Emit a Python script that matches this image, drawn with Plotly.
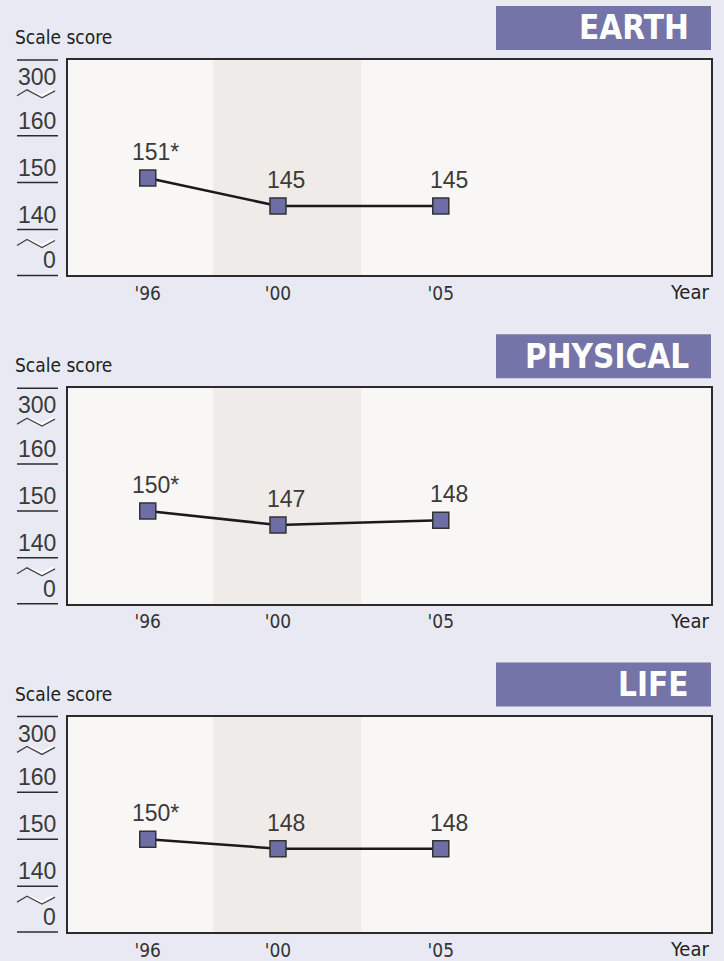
import plotly.graph_objects as go

# NAEP science scale scores by content area
YEARS = [1996, 2000, 2005]
YEAR_LABELS = ["'96", "'00", "'05"]
AREAS = ["EARTH", "PHYSICAL", "LIFE"]
SCORES = {
    "EARTH": [151, 145, 145],
    "PHYSICAL": [150, 147, 148],
    "LIFE": [150, 148, 148],
}
# '*' marks a score significantly different from 2005
SIG_DIFF = {
    "EARTH": [True, False, False],
    "PHYSICAL": [True, False, False],
    "LIFE": [True, False, False],
}
Y_TICKS = [140, 150, 160]
Y_BOTTOM_LABEL = "0"
Y_TOP_LABEL = "300"
SHADE_SPAN = [1998.0, 2002.55]

W, H = 724, 961
BG = "rgb(233,233,243)"
PLOT_BG = "rgb(248,247,245)"
SHADE = "rgb(238,235,232)"
PURPLE = "rgb(116,116,168)"
MARKER = "rgb(110,110,166)"
INK = "#2b2b2b"
NARROW = "Liberation Sans Narrow, DejaVu Sans Condensed, sans-serif"
NUMS = "Liberation Sans, Arial, sans-serif"

PLOT_LEFT, PLOT_RIGHT = 68, 711
PANEL_TOPS = [60, 389, 718]
PANEL_H = 216
Y_RANGE = [130.21, 176.17]
X_RANGE = [1993.55, 2013.3]


def px(x):
    return x / W


def py(y):
    return 1 - y / H


def path(points):
    return " ".join(("M" if k == 0 else "L") + f" {px(x)},{py(y)}"
                    for k, (x, y) in enumerate(points))


fig = go.Figure()
shapes, annos = [], []

for i, area in enumerate(AREAS):
    n = "" if i == 0 else str(i + 1)
    xa, ya = "x" + n, "y" + n
    top = PANEL_TOPS[i]
    bottom = top + PANEL_H

    fig.update_layout(**{
        "xaxis" + n: dict(
            domain=[px(PLOT_LEFT), px(PLOT_RIGHT)], range=X_RANGE,
            anchor=ya, showgrid=False, zeroline=False,
            showline=True, mirror=True, linecolor=INK, linewidth=1.5,
            tickmode="array", tickvals=YEARS, ticktext=YEAR_LABELS,
            ticks="", ticklen=0,
            tickfont=dict(family=NARROW, size=19, color="#333"),
        ),
        "yaxis" + n: dict(
            domain=[py(bottom), py(top)], range=Y_RANGE,
            anchor=xa, showgrid=False, zeroline=False,
            showline=True, mirror=True, linecolor=INK, linewidth=1.5,
            showticklabels=False, ticks="",
        ),
    })

    # shaded period behind '00
    shapes.append(dict(type="rect", xref=xa, yref=ya + " domain",
                       x0=SHADE_SPAN[0], x1=SHADE_SPAN[1], y0=0, y1=1,
                       fillcolor=SHADE, line=dict(width=0), layer="below"))

    fig.add_trace(go.Scatter(
        x=YEARS, y=SCORES[area], xaxis=xa, yaxis=ya,
        mode="lines+markers", hoverinfo="skip", showlegend=False,
        line=dict(color="#1a1a1a", width=2.5),
        marker=dict(symbol="square", size=16, color=MARKER,
                    line=dict(color="#333", width=1.5)),
    ))

    for yr, v, sig in zip(YEARS, SCORES[area], SIG_DIFF[area]):
        annos.append(dict(
            xref=xa, yref=ya, x=yr, y=v, xshift=8, yshift=11,
            text=f"{v}*" if sig else f"{v}", showarrow=False,
            xanchor="center", yanchor="bottom",
            font=dict(family=NUMS, size=23, color="#3a3a3a"),
        ))

    # y-axis tick rules and labels
    for t in Y_TICKS:
        shapes.append(dict(type="line", xref="paper", yref=ya,
                           x0=px(17), x1=px(58), y0=t, y1=t,
                           line=dict(color=INK, width=1.5)))
        annos.append(dict(xref="paper", yref=ya, x=px(58), y=t,
                          text=str(t), showarrow=False,
                          xanchor="right", yanchor="bottom",
                          font=dict(family=NUMS, size=23, color="#3a3a3a")))
    for yd in (0, 1):
        shapes.append(dict(type="line", xref="paper", yref=ya + " domain",
                           x0=px(17), x1=px(58), y0=yd, y1=yd,
                           line=dict(color=INK, width=1.5)))
    annos.append(dict(xref="paper", yref=ya + " domain", x=px(58), y=0,
                      text=Y_BOTTOM_LABEL, showarrow=False,
                      xanchor="right", yanchor="bottom",
                      font=dict(family=NUMS, size=23, color="#3a3a3a")))
    annos.append(dict(xref="paper", yref=ya + " domain", x=px(58), y=1,
                      yshift=-2, text=Y_TOP_LABEL, showarrow=False,
                      xanchor="right", yanchor="top",
                      font=dict(family=NUMS, size=23, color="#3a3a3a")))

    # axis-break zigzags
    for off in (30, 180):
        pts = [(17, top + off + 6), (27, top + off),
               (42, top + off + 8), (55, top + off + 1)]
        glint = [(30, top + off + 1), (42, top + off + 6), (53, top + off)]
        shapes.append(dict(type="path", xref="paper", yref="paper",
                           path=path(glint), line=dict(color="white", width=2.5)))
        shapes.append(dict(type="path", xref="paper", yref="paper",
                           path=path(pts), line=dict(color="#444", width=1.3)))

    # axis titles
    annos.append(dict(xref="paper", yref="paper", x=px(13), y=py(top - 10),
                      text="Scale score", showarrow=False,
                      xanchor="left", yanchor="bottom",
                      font=dict(family=NARROW, size=19, color="#222")))
    annos.append(dict(xref="paper", yref="paper", x=px(711), y=py(bottom + 17),
                      text="Year", showarrow=False,
                      xanchor="right", yanchor="middle",
                      font=dict(family=NARROW, size=20, color="#222")))

    # content-area banner
    shapes.append(dict(type="rect", xref="paper", yref="paper",
                       x0=px(496), x1=px(711), y0=py(top - 54), y1=py(top - 10),
                       fillcolor=PURPLE, line=dict(width=0)))
    annos.append(dict(xref="paper", yref="paper", x=px(691), y=py(top - 32),
                      text=f"<b>{area}</b>", showarrow=False,
                      xanchor="right", yanchor="middle",
                      font=dict(family=NARROW, size=33, color="white")))

fig.update_layout(
    width=W, height=H, margin=dict(l=0, r=0, t=0, b=0),
    paper_bgcolor=BG, plot_bgcolor=PLOT_BG,
    shapes=shapes, annotations=annos, showlegend=False,
)

fig.write_html("out.html")
